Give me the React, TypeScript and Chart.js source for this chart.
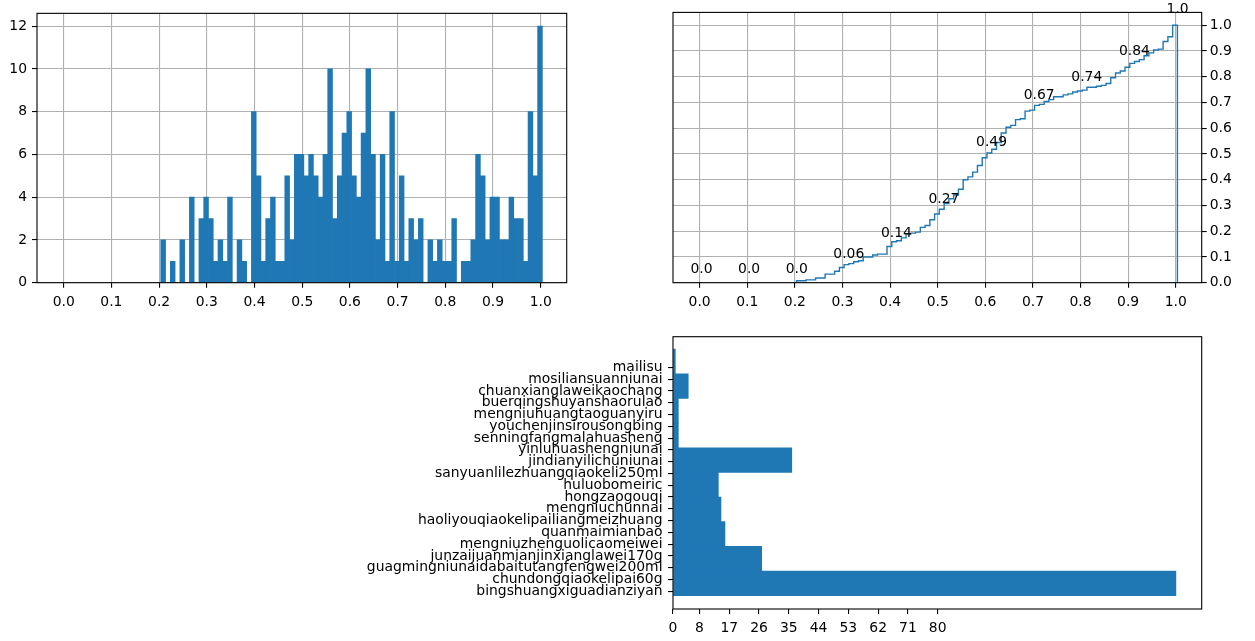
import React, { useEffect, useRef } from 'react';
import { Chart, registerables } from 'chart.js';

Chart.register(...registerables);

// ---------- data ----------
const histBinStart = 0.2035;
const histBinWidth = 0.01;
const histCounts = [
  2, 0, 1, 0, 2, 0, 4, 0, 3, 4,
  3, 1, 2, 1, 4, 0, 2, 1, 0, 8,
  5, 1, 3, 4, 1, 1, 5, 2, 6, 6,
  5, 6, 5, 4, 6, 10, 3, 5, 7, 8,
  5, 4, 7, 10, 6, 2, 6, 1, 8, 1,
  5, 1, 3, 2, 3, 0, 2, 1, 2, 1,
  1, 3, 0, 1, 1, 2, 6, 5, 2, 4,
  4, 2, 2, 4, 3, 3, 1, 8, 5, 12,
];
const fractionTicks = [0, 0.1, 0.2, 0.3, 0.4, 0.5, 0.6, 0.7, 0.8, 0.9, 1.0];
const histCountTicks = [0, 2, 4, 6, 8, 10, 12];
const cdfTicks = [0, 0.1, 0.2, 0.3, 0.4, 0.5, 0.6, 0.7, 0.8, 0.9, 1.0];
const cdfLabelX = [0, 0.1, 0.2, 0.3, 0.4, 0.5, 0.6, 0.7, 0.8, 0.9, 1.0];
const cdfLabelY = [0, 0, 0, 0.06, 0.14, 0.27, 0.49, 0.67, 0.74, 0.84, 1.0];
const cdfLabelText = ['0.0', '0.0', '0.0', '0.06', '0.14', '0.27', '0.49', '0.67', '0.74', '0.84', '1.0'];

const productNames = [
  'bingshuangxiguadianziyan',
  'chundongqiaokelipai60g',
  'guagmingniunaidabaitutangfengwei200ml',
  'junzaijuanmianjinxianglawei170g',
  'mengniuzhenguolicaomeiwei',
  'quanmaimianbao',
  'haoliyouqiaokelipailiangmeizhuang',
  'mengniuchunnai',
  'hongzaogouqi',
  'huluobomeiric',
  'sanyuanlilezhuangqiaokeli250ml',
  'jindianyilichuniunai',
  'yinluhuashengniunai',
  'senningfangmalahuasheng',
  'youchenjinsirousongbing',
  'mengniuhuangtaoguanyiru',
  'buerqingshuyanshaorulao',
  'chuanxianglaweikaochang',
  'mosiliansuanniunai',
  'mailisu',
];
const countBinStart = -0.37;
const countBinWidth = 2.092;
const countValues = [152, 26.8, 15.7, 14.5, 13.7, 35.9, 1.6, 1.6, 4.6, 0.7];
const countTicks = [0, 8, 17, 26, 35, 44, 53, 62, 71, 80];

// ---------- style ----------
const BLUE = '#1f77b4';
const GRID = '#b0b0b0';
const FONT = { family: 'DejaVu Sans', size: 13.9 };
const TEXT = '#000';

const fixedTicks = (values: number[]) => (scale: any) => {
  scale.ticks = values.map((v) => ({ value: v }));
};

const framePlugin = {
  id: 'frame',
  afterDraw(chart: any) {
    const { ctx, chartArea: a } = chart;
    ctx.save();
    ctx.strokeStyle = '#000';
    ctx.lineWidth = 1.1;
    ctx.strokeRect(a.left, a.top, a.right - a.left, a.bottom - a.top);
    ctx.restore();
  },
};

const cdfLabelPlugin = {
  id: 'cdfLabels',
  afterDraw(chart: any) {
    const { ctx } = chart;
    const xs = chart.scales.x;
    const ys = chart.scales.y;
    ctx.save();
    ctx.font = '13.9px "DejaVu Sans"';
    ctx.fillStyle = TEXT;
    ctx.textAlign = 'left';
    ctx.textBaseline = 'alphabetic';
    cdfLabelX.forEach((x, i) => {
      const y = cdfLabelY[i];
      ctx.fillText(cdfLabelText[i], xs.getPixelForValue(x) - 9.2, ys.getPixelForValue(y) - 9.4 - 3 * y);
    });
    ctx.restore();
  },
};

function axisGrid(onArea: boolean) {
  return {
    display: true,
    offset: false,
    drawOnChartArea: onArea,
    color: GRID,
    lineWidth: 1.1,
    drawTicks: true,
    tickColor: '#000',
    tickLength: 5,
    tickWidth: 1.1,
  };
}

export default function App() {
  const histRef = useRef<HTMLCanvasElement>(null);
  const cdfRef = useRef<HTMLCanvasElement>(null);
  const barRef = useRef<HTMLCanvasElement>(null);

  useEffect(() => {
    const charts: Chart[] = [];

    // cumulative fraction derived from the histogram counts
    let running = 0;
    const cum = histCounts.map((c) => (running += c));
    const total = running;
    const cdfPoints: { x: number; y: number }[] = [{ x: histBinStart, y: 0 }];
    cum.forEach((c, i) => {
      const x0 = histBinStart + histBinWidth * i;
      cdfPoints.push({ x: x0, y: c / total }, { x: x0 + histBinWidth, y: c / total });
    });
    cdfPoints.push({ x: histBinStart + histBinWidth * histCounts.length, y: 0 });

    if (histRef.current) {
      charts.push(
        new Chart(histRef.current, {
          type: 'bar',
          data: {
            datasets: [
              {
                data: histCounts.map((c, i) => ({ x: histBinStart + histBinWidth * (i + 0.5), y: c })),
                backgroundColor: BLUE,
                borderWidth: 0,
                barThickness: 'flex',
                barPercentage: 1,
                categoryPercentage: 1,
              } as any,
            ],
          },
          options: {
            animation: false,
            responsive: false,
            maintainAspectRatio: false,
            layout: { padding: { left: 0, top: 12.4, right: 53.3, bottom: 0 } },
            plugins: { legend: { display: false }, tooltip: { enabled: false } },
            scales: {
              x: {
                type: 'linear',
                min: -0.056,
                max: 1.0545,
                offset: false,
                z: 1,
                afterBuildTicks: fixedTicks(fractionTicks),
                afterFit: (s: any) => {
                  s.height = 37.3;
                },
                grid: axisGrid(true),
                border: { display: false },
                ticks: {
                  font: FONT,
                  color: TEXT,
                  padding: 6,
                  maxRotation: 0,
                  autoSkip: false,
                  callback: (v: any) => Number(v).toFixed(1),
                },
              },
              y: {
                type: 'linear',
                min: 0,
                max: 12.6,
                z: 1,
                afterBuildTicks: fixedTicks(histCountTicks),
                afterFit: (s: any) => {
                  s.width = 37;
                },
                grid: axisGrid(true),
                border: { display: false },
                ticks: {
                  font: FONT,
                  color: TEXT,
                  padding: 5,
                  autoSkip: false,
                  callback: (v: any) => String(v),
                },
              },
            } as any,
          },
          plugins: [framePlugin],
        } as any)
      );
    }

    if (cdfRef.current) {
      charts.push(
        new Chart(cdfRef.current, {
          type: 'line',
          data: {
            datasets: [
              {
                data: cdfPoints,
                borderColor: BLUE,
                borderWidth: 1.4,
                pointRadius: 0,
                fill: false,
                tension: 0,
              },
            ],
          },
          options: {
            animation: false,
            responsive: false,
            maintainAspectRatio: false,
            layout: { padding: { left: 53, top: 12.4, right: 0, bottom: 0 } },
            plugins: { legend: { display: false }, tooltip: { enabled: false } },
            scales: {
              x: {
                type: 'linear',
                min: -0.056,
                max: 1.0545,
                offset: false,
                z: 1,
                afterBuildTicks: fixedTicks(fractionTicks),
                afterFit: (s: any) => {
                  s.height = 37.3;
                },
                grid: axisGrid(true),
                border: { display: false },
                ticks: {
                  font: FONT,
                  color: TEXT,
                  padding: 6,
                  maxRotation: 0,
                  autoSkip: false,
                  callback: (v: any) => Number(v).toFixed(1),
                },
              },
              y: {
                type: 'linear',
                position: 'right',
                min: 0,
                max: 1.05,
                z: 1,
                afterBuildTicks: fixedTicks(cdfTicks),
                afterFit: (s: any) => {
                  s.width = 53.3;
                },
                grid: axisGrid(true),
                border: { display: false },
                ticks: {
                  font: FONT,
                  color: TEXT,
                  padding: 3,
                  autoSkip: false,
                  callback: (v: any) => Number(v).toFixed(1),
                },
              },
            } as any,
          },
          plugins: [framePlugin, cdfLabelPlugin],
        } as any)
      );
    }

    if (barRef.current) {
      charts.push(
        new Chart(barRef.current, {
          type: 'bar',
          data: {
            datasets: [
              {
                data: countValues.map((v, i) => ({ x: v, y: countBinStart + countBinWidth * (i + 0.5) })),
                backgroundColor: BLUE,
                borderWidth: 0,
                barThickness: 'flex',
                barPercentage: 1,
                categoryPercentage: 1,
              } as any,
            ],
          },
          options: {
            indexAxis: 'y',
            animation: false,
            responsive: false,
            maintainAspectRatio: false,
            layout: { padding: { left: 0, top: 16.7, right: 53.3, bottom: 0 } },
            plugins: { legend: { display: false }, tooltip: { enabled: false } },
            scales: {
              x: {
                type: 'linear',
                min: 0,
                max: 159.8,
                offset: false,
                z: 1,
                afterBuildTicks: fixedTicks(countTicks),
                afterFit: (s: any) => {
                  s.height = 32;
                },
                grid: axisGrid(false),
                border: { display: false },
                ticks: {
                  font: FONT,
                  color: TEXT,
                  padding: 6,
                  maxRotation: 0,
                  autoSkip: false,
                  callback: (v: any) => String(v),
                },
              },
              y: {
                type: 'linear',
                min: -1.5,
                max: 21.6,
                offset: false,
                z: 1,
                afterBuildTicks: fixedTicks(productNames.map((_, i) => i)),
                afterFit: (s: any) => {
                  s.width = 313;
                },
                grid: axisGrid(false),
                border: { display: false },
                ticks: {
                  font: FONT,
                  color: TEXT,
                  padding: 5.5,
                  autoSkip: false,
                  callback: (v: any) => productNames[Math.round(Number(v))] ?? '',
                },
              },
            } as any,
          },
          plugins: [framePlugin],
        } as any)
      );
    }

    return () => {
      charts.forEach((c) => c.destroy());
    };
  }, []);

  return (
    <div
      style={{
        position: 'fixed',
        left: 0,
        top: 0,
        width: 1255,
        height: 641,
        background: '#fff',
        overflow: 'hidden',
      }}
    >
      <canvas
        ref={histRef}
        width={620}
        height={320}
        style={{ position: 'absolute', left: 0, top: 0, width: 620, height: 320 }}
      />
      <canvas
        ref={cdfRef}
        width={635}
        height={320}
        style={{ position: 'absolute', left: 620, top: 0, width: 635, height: 320 }}
      />
      <canvas
        ref={barRef}
        width={895}
        height={321}
        style={{ position: 'absolute', left: 360, top: 320, width: 895, height: 321 }}
      />
    </div>
  );
}
